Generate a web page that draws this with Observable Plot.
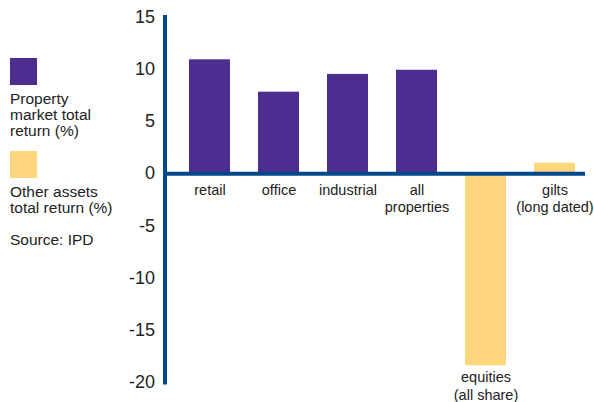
<!DOCTYPE html>
<html>
<head>
<meta charset="utf-8">
<script src="https://cdn.jsdelivr.net/npm/d3@7"></script>
<script src="https://cdn.jsdelivr.net/npm/@observablehq/plot@0.6"></script>
<style>
  html, body { margin: 0; padding: 0; background: #fff; }
  #wrap { position: relative; width: 594px; height: 402px; font-family: "Liberation Sans", Arial, sans-serif; color: #222; }
  #wrap svg { position: absolute; left: 0; top: 0; overflow: visible; }
  .sw { position: absolute; width: 27px; height: 27px; }
  .lt { position: absolute; left: 10px; font-size: 15.5px; line-height: 16px; white-space: pre-line; }
</style>
</head>
<body>
<div id="wrap"></div>
<script>
const categories = ["retail", "office", "industrial", "all\nproperties", "equities\n(all share)", "gilts\n(long dated)"];
const values = [10.9, 7.8, 9.5, 9.9, -18.4, 1.0];
const groups = ["Property", "Property", "Property", "Property", "Other", "Other"];
const groupNames = ["Property", "Other"];
const groupColors = ["#4b2e8f", "#fdd67d"];
const legendLabels = ["Property\nmarket total\nreturn (%)", "Other assets\ntotal return (%)"];
const sourceText = "Source: IPD";
const yTicks = [15, 10, 5, 0, -5, -10, -15, -20];

const axisBlue = "#00498c";
const data = categories.map((c, i) => ({cat: c, value: values[i], group: groups[i]}));

const chart = Plot.plot({
  width: 594,
  height: 402,
  marginLeft: 164.5,
  marginRight: 9,
  marginTop: 16.5,
  marginBottom: 20,
  style: {fontFamily: "'Liberation Sans', Arial, sans-serif", color: "#222", background: "transparent", overflow: "visible"},
  x: {domain: categories, range: [187, 577], paddingInner: 0.4, paddingOuter: 0, axis: null},
  y: {domain: [-20, 15], axis: null},
  color: {domain: groupNames, range: groupColors},
  marks: [
    Plot.barY(data, {x: "cat", y: "value", fill: "group"}),
    Plot.axisY({ticks: yTicks, tickSize: 0, tickPadding: 10, fontSize: 18, label: null, tickFormat: d => String(d)}),
    Plot.ruleY([0], {stroke: axisBlue, strokeWidth: 4}),
    Plot.frame({anchor: "left", stroke: axisBlue, strokeWidth: 4, strokeLinecap: "square"}),
    Plot.text(data.filter(d => d.value >= 0), {x: "cat", y: () => 0, text: "cat", lineAnchor: "top", dy: 9, fontSize: 14.5, lineHeight: 1.2, fill: "#222"}),
    Plot.text(data.filter(d => d.value < 0), {x: "cat", y: "value", text: "cat", lineAnchor: "top", dy: 4, fontSize: 14.5, lineHeight: 1.2, fill: "#222"})
  ]
});

const wrap = document.getElementById("wrap");
wrap.appendChild(chart);

const swatchTops = [58, 151];
const textTops = [91, 183.5];
groupNames.forEach((g, i) => {
  const sw = document.createElement("div");
  sw.className = "sw";
  sw.style.left = "9.5px";
  sw.style.top = swatchTops[i] + "px";
  sw.style.background = groupColors[i];
  wrap.appendChild(sw);
  const t = document.createElement("div");
  t.className = "lt";
  t.style.top = textTops[i] + "px";
  t.textContent = legendLabels[i];
  wrap.appendChild(t);
});
const src = document.createElement("div");
src.className = "lt";
src.style.top = "232px";
src.textContent = sourceText;
wrap.appendChild(src);
</script>
</body>
</html>
